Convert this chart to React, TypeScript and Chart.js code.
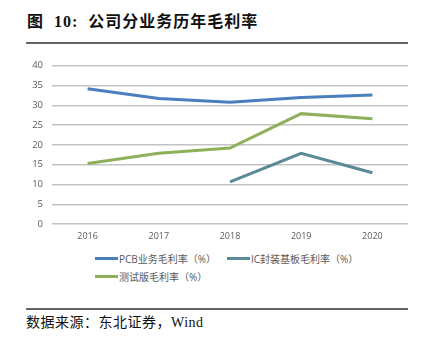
import React, { useEffect, useRef } from "react";
import { Chart, registerables } from "chart.js";

Chart.register(...registerables);

const years = ["2016", "2017", "2018", "2019", "2020"];
const pcbMargin = [34.2, 31.7, 30.8, 32.0, 32.6];
const icMargin = [null, null, 10.7, 17.9, 13.0];
const testMargin = [15.3, 17.9, 19.2, 27.9, 26.6];
const seriesLabels = ["PCB业务毛利率（%）", "IC封装基板毛利率（%）", "测试版毛利率（%）"];
const seriesColors = ["#4a7ebf", "#5a8a96", "#8fb05a"];
const yTicks = [0, 5, 10, 15, 20, 25, 30, 35, 40];

export default function App() {
  const ref = useRef<HTMLCanvasElement | null>(null);

  useEffect(() => {
    if (!ref.current) return;
    const chart = new Chart(ref.current, {
      type: "line",
      data: {
        labels: years,
        datasets: [pcbMargin, icMargin, testMargin].map((d, i) => ({
          label: seriesLabels[i],
          data: d as any,
          borderColor: seriesColors[i],
          backgroundColor: seriesColors[i],
          borderWidth: 3,
          pointRadius: 0,
          tension: 0,
          spanGaps: false,
        })),
      },
      options: {
        animation: false,
        responsive: false,
        maintainAspectRatio: false,
        layout: { padding: { top: 10, bottom: 2, left: 8, right: 14 } },
        plugins: { legend: { display: false }, tooltip: { enabled: false } },
        scales: {
          x: {
            offset: true,
            grid: { display: false, drawTicks: false },
            border: { display: false },
            ticks: {
              padding: 7,
              color: "#595959",
              font: { family: "'Open Sans', 'Noto Sans', sans-serif", size: 9 },
            },
          },
          y: {
            min: 0,
            max: 40,
            afterBuildTicks: (axis: any) => {
              axis.ticks = yTicks.map((v) => ({ value: v }));
            },
            afterFit: (axis: any) => {
              axis.width = 44;
            },
            grid: { color: "#c3c3c3", lineWidth: 1.5, drawTicks: false },
            border: { display: false },
            ticks: {
              padding: 9,
              color: "#595959",
              font: { family: "'Open Sans', 'Noto Sans', sans-serif", size: 9.5 },
            },
          },
        },
      },
    });
    return () => chart.destroy();
  }, []);

  const legendText: React.CSSProperties = {
    fontFamily: "'Open Sans', 'Noto Sans CJK SC', sans-serif",
    fontSize: 10,
    color: "#595959",
    whiteSpace: "nowrap",
  };
  const legendItem = (i: number, left: number, top: number) => (
    <div
      key={i}
      style={{ position: "absolute", left, top, display: "flex", alignItems: "center", height: 14 }}
    >
      <div style={{ width: 23, height: 3, background: seriesColors[i], marginRight: 1 }} />
      <span style={legendText}>{seriesLabels[i]}</span>
    </div>
  );

  return (
    <div
      style={{
        position: "fixed",
        left: 0,
        top: 0,
        width: 422,
        height: 343,
        background: "#fff",
        overflow: "hidden",
      }}
    >
      <div
        style={{
          position: "absolute",
          left: 27,
          top: 11,
          fontFamily: "'Liberation Serif', 'Noto Sans CJK SC', serif",
          fontWeight: "bold",
          fontSize: 16,
          letterSpacing: 1,
          color: "#111",
          whiteSpace: "nowrap",
          lineHeight: "22px",
        }}
      >
        图&nbsp;&nbsp;10:&nbsp;&nbsp;公司分业务历年毛利率
      </div>
      <div style={{ position: "absolute", left: 26, top: 42, width: 382, height: 2, background: "#666" }} />
      <canvas
        ref={ref}
        width={422}
        height={200}
        style={{ position: "absolute", left: 0, top: 51, width: 422, height: 200 }}
      />
      {legendItem(0, 95, 251)}
      {legendItem(1, 227, 251)}
      {legendItem(2, 95, 269)}
      <div style={{ position: "absolute", left: 26, top: 308, width: 382, height: 1.5, background: "#666" }} />
      <div
        style={{
          position: "absolute",
          left: 26,
          top: 314,
          fontFamily: "'Liberation Serif', 'Noto Sans CJK SC', serif",
          fontSize: 14,
          letterSpacing: 0.5,
          color: "#111",
          whiteSpace: "nowrap",
          lineHeight: "18px",
        }}
      >
        数据来源：东北证券，Wind
      </div>
    </div>
  );
}
